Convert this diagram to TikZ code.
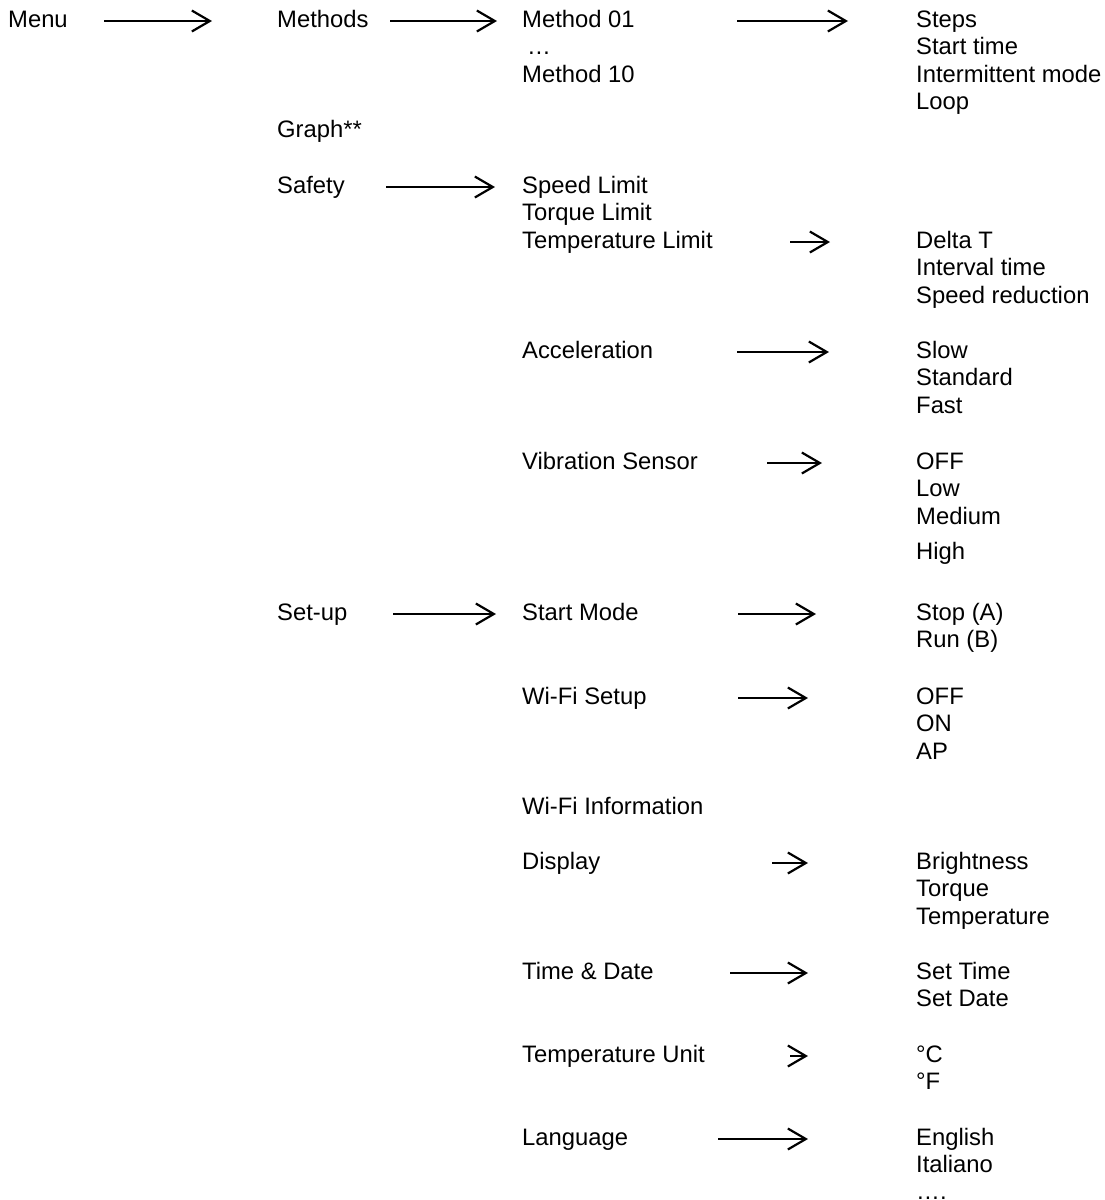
\documentclass[tikz,border=0pt]{standalone}
\usepackage{fontspec}
\setmainfont{Liberation Sans}
\usetikzlibrary{arrows.meta}
\begin{document}
\begin{tikzpicture}[x=1pt,y=-1pt,
  lbl/.style={anchor=base west, inner sep=0pt, text height=18pt, text depth=6pt,
              font=\fontsize{23.8}{27.5}\selectfont},
  arr/.style={line width=2.2pt,
              -{Straight Barb[length=18pt,width=21pt,line width=2.2pt]}}]
\useasboundingbox (0,0) rectangle (1104,1200);

% level 0 and 1
\node[lbl] (menu)    at (8,27)   {Menu};
\node[lbl] (methods) at (277,27) {Methods};
\node[lbl] (graph)   at (277,137) {Graph**};
\node[lbl] (safety)  at (277,193) {Safety};
\node[lbl] (setup)   at (277,620) {Set-up};

% methods
\node[lbl] (m01)  at (522,27)   {Method 01};
\node[lbl] (mdot) at (527,54.5) {…};
\node[lbl] (m10)  at (522,82)   {Method 10};
\node[lbl] (steps) at (916,27)   {Steps};
\node[lbl] (stime) at (916,54.5) {Start time};
\node[lbl] (imode) at (916,82)   {Intermittent mode};
\node[lbl] (loop)  at (916,109.5){Loop};

% safety
\node[lbl] (spdlim) at (522,193) {Speed Limit};
\node[lbl] (trqlim) at (522,220.5) {Torque Limit};
\node[lbl] (tmplim) at (522,248) {Temperature Limit};
\node[lbl] (deltat) at (916,248) {Delta T};
\node[lbl] (intv)   at (916,275.5) {Interval time};
\node[lbl] (spdred) at (916,303) {Speed reduction};

\node[lbl] (accel) at (522,358) {Acceleration};
\node[lbl] (slow)  at (916,358) {Slow};
\node[lbl] (std)   at (916,385.5) {Standard};
\node[lbl] (fast)  at (916,413) {Fast};

\node[lbl] (vib)  at (522,469) {Vibration Sensor};
\node[lbl] (voff) at (916,469) {OFF};
\node[lbl] (vlow) at (916,496.5) {Low};
\node[lbl] (vmed) at (916,524) {Medium};
\node[lbl] (vhi)  at (916,559) {High};

% set-up
\node[lbl] (smode) at (522,620) {Start Mode};
\node[lbl] (stop)  at (916,620) {Stop (A)};
\node[lbl] (run)   at (916,647.5) {Run (B)};

\node[lbl] (wifi) at (522,704) {Wi-Fi Setup};
\node[lbl] (woff) at (916,704) {OFF};
\node[lbl] (won)  at (916,731.5) {ON};
\node[lbl] (wap)  at (916,759) {AP};

\node[lbl] (winfo) at (522,814) {Wi-Fi Information};

\node[lbl] (disp)   at (522,869) {Display};
\node[lbl] (bright) at (916,869) {Brightness};
\node[lbl] (dtrq)   at (916,896.5) {Torque};
\node[lbl] (dtmp)   at (916,924) {Temperature};

\node[lbl] (tdate) at (522,979) {Time \& Date};
\node[lbl] (settm) at (916,979) {Set Time};
\node[lbl] (setdt) at (916,1006.5) {Set Date};

\node[lbl] (tunit) at (522,1062) {Temperature Unit};
\node[lbl] (degc)  at (916,1062) {°C};
\node[lbl] (degf)  at (916,1089.5) {°F};

\node[lbl] (lang) at (522,1145) {Language};
\node[lbl] (eng)  at (916,1145) {English};
\node[lbl] (ita)  at (916,1172.5) {Italiano};
\node[lbl] (more) at (916,1199) {….};

% connectors
\draw[arr] (104,0 |- menu)    -- (212,0 |- menu);
\draw[arr] (390,0 |- methods) -- (497,0 |- methods);
\draw[arr] (737,0 |- m01)     -- (848,0 |- m01);
\draw[arr] (386,0 |- safety)  -- (495,0 |- safety);
\draw[arr] (790,0 |- tmplim)  -- (830,0 |- tmplim);
\draw[arr] (737,0 |- accel)   -- (829,0 |- accel);
\draw[arr] (767,0 |- vib)     -- (822,0 |- vib);
\draw[arr] (393,0 |- setup)   -- (496,0 |- setup);
\draw[arr] (738,0 |- smode)   -- (816,0 |- smode);
\draw[arr] (738,0 |- wifi)    -- (808,0 |- wifi);
\draw[arr] (772,0 |- disp)    -- (808,0 |- disp);
\draw[arr] (730,0 |- tdate)   -- (808,0 |- tdate);
\draw[arr] (790,0 |- tunit)   -- (808,0 |- tunit);
\draw[arr] (718,0 |- lang)    -- (808,0 |- lang);
\end{tikzpicture}
\end{document}
